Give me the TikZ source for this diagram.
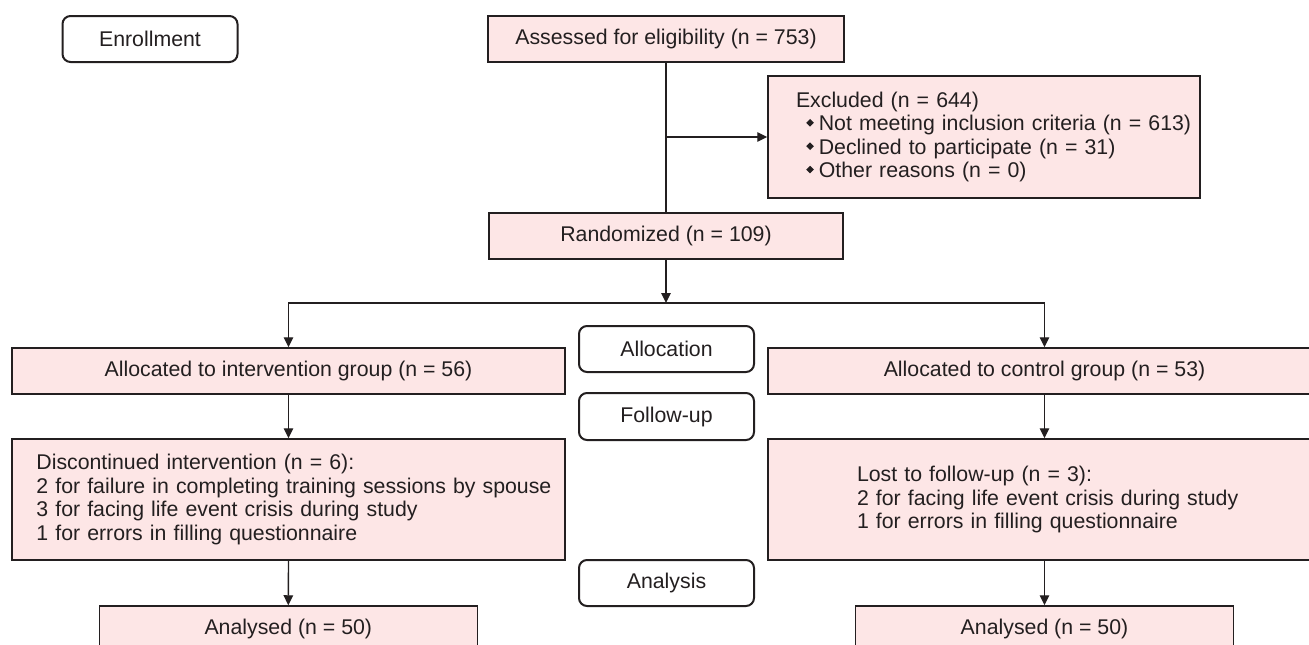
\documentclass[tikz,border=0pt]{standalone}
\usepackage{fontspec}
\setmainfont{Liberation Sans}
\usepackage{graphicx}
\usetikzlibrary{arrows.meta}
\definecolor{pinkfill}{RGB}{253,230,230}
\definecolor{ink}{RGB}{35,31,32}
\newcommand{\dmd}{\hspace*{38.2pt}\raisebox{4.2pt}{\rotatebox{45}{\rule{5.4pt}{5.4pt}}}\hspace{5pt}}
\newcommand{\ind}[1]{\hspace*{#1}}
\begin{document}
\begin{tikzpicture}[x=1pt,y=-1pt,
  every node/.style={inner sep=0pt, text=ink, font=\fontsize{21.3}{23.4}\selectfont},
  pinkbox/.style={draw=ink, line width=1.5pt, fill=pinkfill},
  stagebox/.style={draw=ink, line width=2pt, rounded corners=8pt, fill=white, minimum width=175pt, minimum height=46pt},
  conn/.style={draw=ink, line width=1.4pt},
  arr/.style={conn, -{Triangle[length=10pt,width=9.5pt]}}
]
\useasboundingbox (0,0) rectangle (1309,645);
\clip (0,0) rectangle (1309,645);

% stage labels
\node[stagebox] (enroll) at (150,39) {Enrollment};
\node[stagebox] (alloc) at (666.5,349) {Allocation};
\node[stagebox, minimum height=47pt] (follow) at (666.5,416.5) {Follow-up};
\node[stagebox] (analysis) at (666.5,583) {Analysis};

% flow boxes
\node[pinkbox, minimum width=356pt, minimum height=46pt] (assess) at (666,39) {Assessed for eligibility (n = 753)};
\node[pinkbox, text width=432pt, minimum height=122pt, align=left] (excl) at (984,137)
  {\ind{28pt}Excluded (n = 644)\\
   \dmd Not meeting inclusion criteria (n = 613)\\
   \dmd Declined to participate (n = 31)\\
   \dmd Other reasons (n = 0)};
\node[pinkbox, minimum width=354pt, minimum height=46pt] (rand) at (666,236) {Randomized (n = 109)};

\node[pinkbox, minimum width=553pt, minimum height=46pt] (allocL) at (288.5,371) {Allocated to intervention group (n = 56)};
\node[pinkbox, minimum width=553pt, minimum height=46pt] (allocR) at (1044.5,371) {Allocated to control group (n = 53)};

\node[pinkbox, text width=553pt, minimum height=121pt, align=left] (discL) at (288.5,499.5)
  {\ind{24.4pt}Discontinued intervention (n = 6):\\
   \ind{24.4pt}2 for failure in completing training sessions by spouse\\
   \ind{24.4pt}3 for facing life event crisis during study\\
   \ind{24.4pt}1 for errors in filling questionnaire};
\node[pinkbox, text width=553pt, minimum height=121pt, align=left] (lostR) at (1044.5,499.5)
  {\ind{89pt}Lost to follow-up (n = 3):\\
   \ind{89pt}2 for facing life event crisis during study\\
   \ind{89pt}1 for errors in filling questionnaire};

\node[pinkbox, minimum width=378pt, minimum height=46pt] (anaL) at (288.3,629) {Analysed (n = 50)};
\node[pinkbox, minimum width=378pt, minimum height=46pt] (anaR) at (1044.5,629) {Analysed (n = 50)};

% connectors
\draw[conn] (assess.south) -- (rand.north);
\coordinate (exclJ) at (assess.south |- excl.west);
\draw[arr] (exclJ) -- (excl.west);
\coordinate (split) at (666,303);
\draw[arr] (rand.south) -- (split);
\draw[arr] (split) -| (allocL.north);
\draw[arr] (split) -| (allocR.north);
\draw[arr] (allocL.south) -- (discL.north);
\draw[arr] (allocR.south) -- (lostR.north);
\draw[arr] (discL.south) -- (anaL.north);
\draw[arr] (lostR.south) -- (anaR.north);
\end{tikzpicture}
\end{document}
